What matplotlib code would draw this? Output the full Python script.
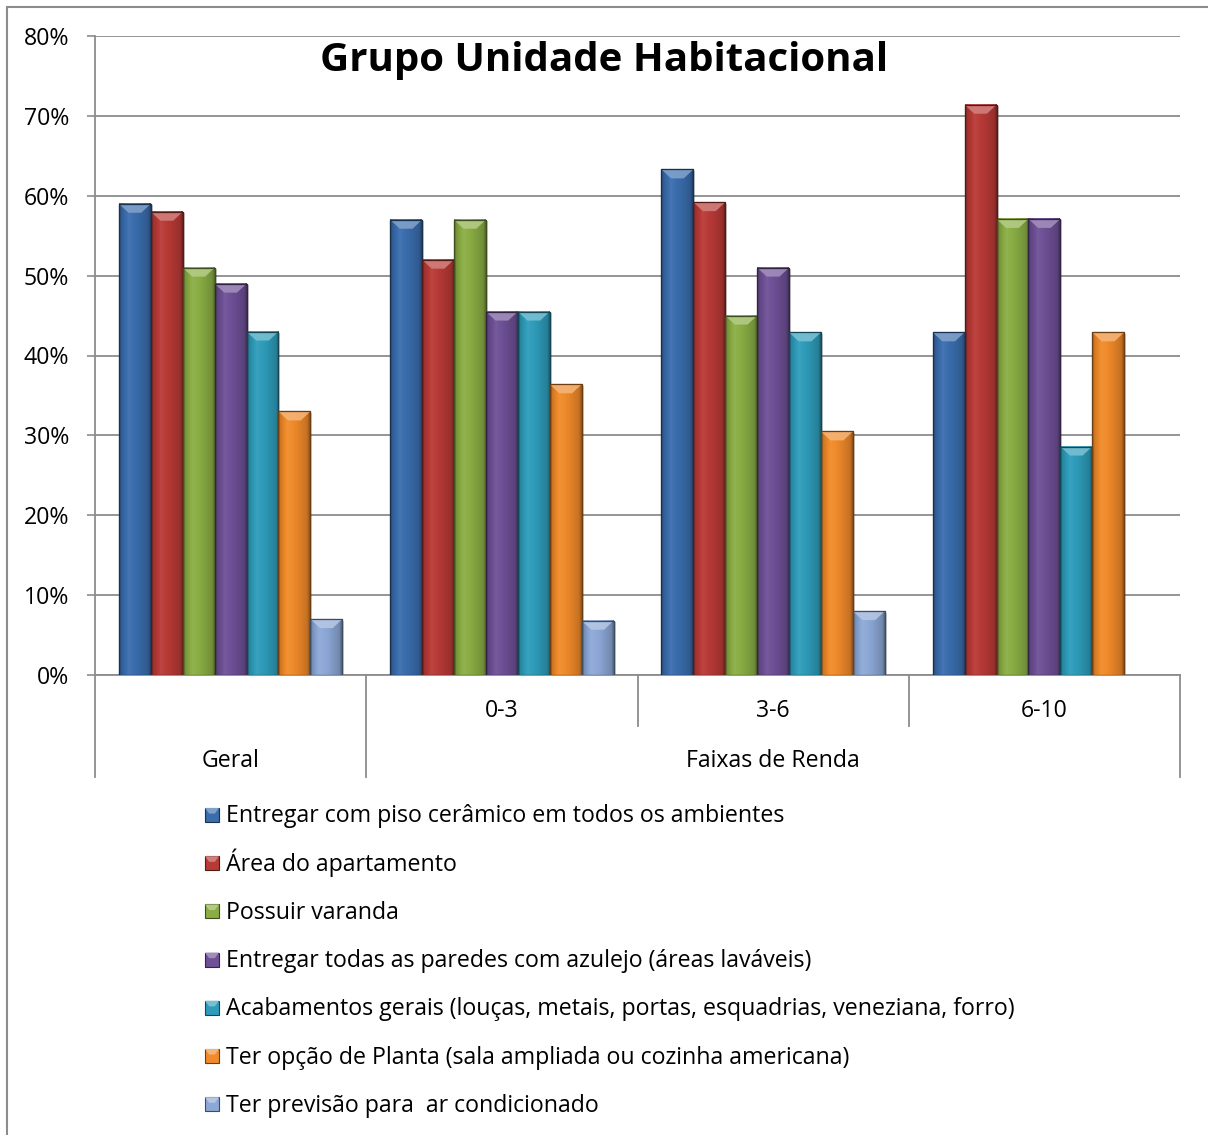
import numpy as np
import matplotlib.pyplot as plt
import matplotlib.transforms as mtransforms
from matplotlib.patches import Polygon, Rectangle
from matplotlib.colors import to_rgb

plt.rcParams['font.family'] = ['Open Sans', 'DejaVu Sans']

grupos = ['Geral', '0-3', '3-6', '6-10']
nivel_superior = 'Faixas de Renda'
titulo = 'Grupo Unidade Habitacional'

rotulos = [
    'Entregar com piso cerâmico em todos os ambientes',
    'Área do apartamento',
    'Possuir varanda',
    'Entregar todas as paredes com azulejo (áreas laváveis)',
    'Acabamentos gerais (louças, metais, portas, esquadrias, veneziana, forro)',
    'Ter opção de Planta (sala ampliada ou cozinha americana)',
    'Ter previsão para  ar condicionado',
]

# percentuais por grupo (Geral, 0-3, 3-6, 6-10)
piso = [59.0, 57.0, 63.3, 42.9]
area = [58.0, 52.0, 59.2, 71.4]
varanda = [51.0, 57.0, 45.0, 57.1]
azulejo = [49.0, 45.5, 51.0, 57.1]
acabamentos = [43.0, 45.5, 42.9, 28.6]
planta = [33.0, 36.4, 30.5, 42.9]
ar_cond = [7.0, 6.8, 8.0, np.nan]

valores = [piso, area, varanda, azulejo, acabamentos, planta, ar_cond]
cores = ['#3A6DAD', '#B83A36', '#8AAD44', '#6E5096', '#2E9CBA', '#F08A2A', '#8CA8D6']

W, H = 1208, 1135
FS = 16.7
fig = plt.figure(figsize=(W / 100, H / 100), dpi=100)
ax = fig.add_axes([95 / W, 1 - 675 / H, (1180 - 95) / W, (675 - 36) / H])

n = len(valores)
larg = 1.0 / (n + 1.5)
x = np.arange(len(grupos))
GRAY = '#8c8c8c'


def tom(cor, f):
    c = np.array(to_rgb(cor))
    if f >= 1:
        return np.clip(c + (1 - c) * (f - 1), 0, 1)
    return c * f


# perfil horizontal do chanfro
t_pts = [0.0, 0.07, 0.30, 0.60, 0.92, 1.0]
f_pts = [0.62, 0.86, 1.06, 0.96, 0.82, 0.60]
tt = np.linspace(0, 1, 60)
perfil = np.interp(tt, t_pts, f_pts)

sombra = mtransforms.ScaledTranslation(2 / 100, -1.5 / 100, fig.dpi_scale_trans)
px_y = 639 / 80.0  # pixels por unidade de y

for i, (vals, cor) in enumerate(zip(valores, cores)):
    pos = x - (n - 1) / 2 * larg + i * larg
    barras = ax.bar(pos, vals, larg, color=cor, edgecolor=tom(cor, 0.45),
                    linewidth=0.8, zorder=3)
    for b in barras:
        h = b.get_height()
        if not np.isfinite(h) or h <= 0:
            continue
        x0, w = b.get_x(), b.get_width()
        ax.add_patch(Rectangle((x0, 0), w, h, facecolor='black', alpha=0.18,
                               edgecolor='none', zorder=2,
                               transform=ax.transData + sombra))
        grad = np.array([tom(cor, f) for f in perfil])[None, :, :]
        ax.imshow(grad, extent=(x0, x0 + w, 0, h), aspect='auto',
                  interpolation='bilinear', zorder=3.5)
        by = 9 / px_y
        bx = w * 0.3
        ax.add_patch(Polygon([(x0, h), (x0 + w, h), (x0 + w - bx, h - by), (x0 + bx, h - by)],
                             closed=True, facecolor=tom(cor, 1.35), edgecolor='none',
                             alpha=0.9, zorder=3.6))
        ax.add_patch(Rectangle((x0, 0), w, h, facecolor='none',
                               edgecolor=tom(cor, 0.45), linewidth=0.9, zorder=3.7))

ax.set_xlim(-0.5, len(grupos) - 0.5)
ax.set_ylim(0, 80)
ax.set_yticks(np.arange(0, 81, 10))
ax.set_yticklabels([f'{v}%' for v in range(0, 81, 10)])
ax.set_xticks([])
ax.grid(axis='y', color=GRAY, linewidth=1.3, zorder=1)
ax.tick_params(axis='y', length=5.5, width=1.2, color=GRAY, pad=13, labelsize=FS)
for s in ['top', 'right']:
    ax.spines[s].set_visible(False)
for s in ['left', 'bottom']:
    ax.spines[s].set_color(GRAY)
    ax.spines[s].set_linewidth(1.3)

# eixo de categorias em dois níveis
blend = mtransforms.blended_transform_factory(ax.transData, ax.transAxes)
ah = 639.0
curto = -51 / ah
longo = -102 / ah
limites = np.arange(len(grupos) + 1) - 0.5
for k, xb in enumerate(limites):
    y_fim = curto if k in (2, 3) else longo
    ax.plot([xb, xb], [0, y_fim], color=GRAY, lw=1.3, transform=blend,
            clip_on=False, zorder=1)
for k, g in enumerate(grupos):
    yk = -86 / ah if k == 0 else -36 / ah
    ax.text(k, yk, g, transform=blend, ha='center', va='center', fontsize=FS)
ax.text(np.mean(x[1:]), -86 / ah, nivel_superior, transform=blend,
        ha='center', va='center', fontsize=FS)

fig.text(0.5, 1 - 60 / H, titulo, ha='center', va='center',
         fontsize=29, fontweight='bold')

# legenda em coordenadas de pixel (origem no canto superior esquerdo)
px = mtransforms.Affine2D().scale(1 / W, -1 / H).translate(0, 1) + fig.transFigure
leg_x, leg_y0, leg_dy, lado = 205, 815, 48.2, 14
for i, (rot, cor) in enumerate(zip(rotulos, cores)):
    yc = leg_y0 + i * leg_dy
    x0, y0 = leg_x, yc - lado / 2
    fig.add_artist(Rectangle((x0, y0), lado, lado, facecolor=cor,
                             edgecolor=tom(cor, 0.45), linewidth=0.8, transform=px))
    fig.add_artist(Polygon([(x0, y0), (x0 + lado, y0), (x0 + lado * 0.7, y0 + lado * 0.4),
                            (x0 + lado * 0.3, y0 + lado * 0.4)], closed=True,
                           facecolor=tom(cor, 1.35), edgecolor='none', transform=px))
    fig.text(leg_x + lado + 7, yc + 7.5, rot, transform=px, ha='left', va='baseline',
             fontsize=FS)

# moldura do gráfico
fig.add_artist(Rectangle((7 / W, -0.1), 1.2, 1 - 7 / H + 0.1, transform=fig.transFigure,
                         facecolor='none', edgecolor=GRAY, linewidth=1.5))

fig.savefig('out.png', dpi=100)
